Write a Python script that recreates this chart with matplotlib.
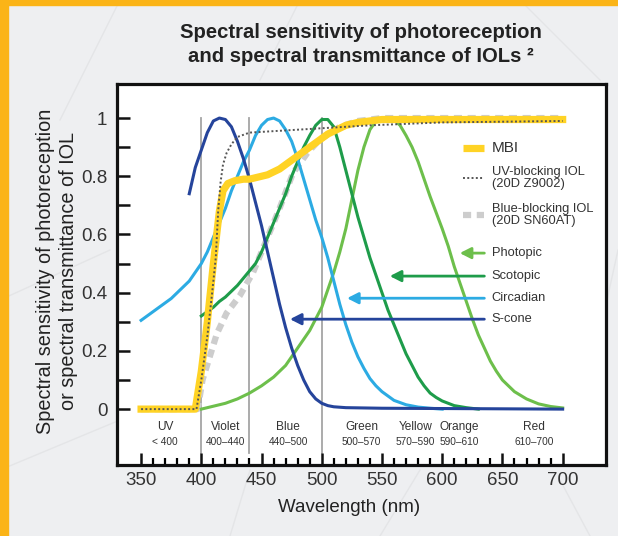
import matplotlib
matplotlib.use('Agg')
import matplotlib.pyplot as plt
from matplotlib.patches import Rectangle
from matplotlib.lines import Line2D

SANS = 'Liberation Sans'

# ---------------- data ----------------
scone_nm = [390, 395, 400, 405, 410, 415, 420, 425, 430, 435, 440, 445, 450, 455, 460,
            465, 470, 475, 480, 485, 490, 495, 500, 505, 510, 520, 550, 600, 650, 700]
scone_y = [0.74, 0.83, 0.89, 0.95, 0.99, 1.0, 0.995, 0.97, 0.92, 0.86, 0.79, 0.71, 0.63, 0.54, 0.45,
           0.36, 0.28, 0.21, 0.15, 0.10, 0.06, 0.035, 0.02, 0.012, 0.008, 0.005, 0.003, 0.002, 0.001, 0.0]

circ_nm = [350, 355, 360, 365, 370, 375, 380, 385, 390, 395, 400, 405, 410, 415, 420, 425, 430,
           435, 440, 445, 450, 455, 460, 465, 470, 475, 480, 485, 490, 495, 500, 505, 510, 515,
           520, 525, 530, 535, 540, 545, 550, 560, 570, 580, 590, 600]
circ_y = [0.305, 0.32, 0.335, 0.35, 0.365, 0.38, 0.40, 0.42, 0.44, 0.47, 0.50, 0.54, 0.59, 0.64,
          0.69, 0.75, 0.80, 0.85, 0.89, 0.94, 0.975, 0.995, 1.0, 0.99, 0.96, 0.92, 0.86, 0.79,
          0.72, 0.65, 0.59, 0.52, 0.44, 0.36, 0.29, 0.23, 0.18, 0.14, 0.105, 0.08, 0.06, 0.03,
          0.015, 0.007, 0.003, 0.0]

scot_nm = [400, 405, 410, 415, 420, 425, 430, 435, 440, 445, 450, 455, 460, 465, 470, 475, 480,
           485, 490, 495, 500, 505, 510, 515, 520, 525, 530, 535, 540, 545, 550, 555, 560, 565,
           570, 575, 580, 585, 590, 595, 600, 610, 620, 630]
scot_y = [0.32, 0.335, 0.35, 0.37, 0.385, 0.405, 0.425, 0.45, 0.475, 0.50, 0.54, 0.59, 0.64, 0.69,
          0.74, 0.80, 0.85, 0.90, 0.94, 0.975, 0.995, 0.995, 0.97, 0.90, 0.82, 0.74, 0.66, 0.59,
          0.52, 0.46, 0.40, 0.34, 0.29, 0.24, 0.19, 0.15, 0.11, 0.08, 0.055, 0.04, 0.028, 0.012,
          0.005, 0.0]

phot_nm = [400, 410, 420, 430, 440, 450, 460, 470, 475, 480, 485, 490, 495, 500, 505, 510, 515,
           520, 525, 530, 535, 540, 545, 550, 555, 560, 565, 570, 575, 580, 585, 590, 595, 600,
           605, 610, 615, 620, 625, 630, 635, 640, 645, 650, 655, 660, 670, 680, 690, 700]
phot_y = [0.0, 0.01, 0.02, 0.035, 0.055, 0.08, 0.11, 0.15, 0.18, 0.21, 0.24, 0.27, 0.31, 0.35,
          0.41, 0.47, 0.54, 0.62, 0.72, 0.82, 0.90, 0.96, 0.99, 1.0, 1.0, 0.995, 0.975, 0.94,
          0.90, 0.85, 0.79, 0.73, 0.675, 0.62, 0.56, 0.49, 0.43, 0.37, 0.31, 0.255, 0.21, 0.165,
          0.13, 0.10, 0.08, 0.06, 0.035, 0.018, 0.009, 0.004]

mbi_nm = [350, 395, 400, 405, 410, 415, 418, 422, 428, 435, 440, 445, 450, 455, 460, 465, 470,
          475, 480, 485, 490, 495, 500, 505, 510, 515, 520, 530, 540, 550, 600, 700]
mbi_y = [0.0, 0.0, 0.13, 0.30, 0.50, 0.68, 0.75, 0.775, 0.785, 0.79, 0.79, 0.795, 0.80, 0.805,
         0.815, 0.825, 0.84, 0.855, 0.87, 0.885, 0.90, 0.915, 0.93, 0.945, 0.955, 0.965, 0.975,
         0.985, 0.99, 0.995, 0.995, 0.995]

uvb_nm = [350, 396, 400, 405, 409, 412, 414, 416, 418, 421, 425, 430, 440, 460, 500, 540, 600, 700]
uvb_y = [0.0, 0.0, 0.10, 0.25, 0.40, 0.52, 0.68, 0.78, 0.84, 0.88, 0.91, 0.935, 0.95, 0.955,
         0.965, 0.975, 0.985, 0.99]

bb_nm = [350, 397, 401, 407, 413, 421, 432, 443, 455, 465, 476, 488, 498, 515, 530, 550, 700]
bb_y = [0.0, 0.0, 0.10, 0.18, 0.26, 0.33, 0.39, 0.47, 0.59, 0.69, 0.81, 0.88, 0.925, 0.97,
        0.99, 1.0, 1.0]

band_names = ['UV', 'Violet', 'Blue', 'Green', 'Yellow', 'Orange', 'Red']
band_ranges = ['< 400', '400–440', '440–500', '500–570', '570–590', '590–610', '610–700']
band_label_x = [370, 420, 472, 533, 578, 614, 676]
band_edges = [400, 440, 500]

x_ticks = [350, 400, 450, 500, 550, 600, 650, 700]
y_ticks = [0, 0.2, 0.4, 0.6, 0.8, 1.0]
y_tick_labels = ['0', '0.2', '0.4', '0.6', '0.8', '1']

C_SCONE = '#25449B'
C_CIRC = '#2CABE3'
C_SCOT = '#1E9C4A'
C_PHOT = '#6DBF4B'
C_MBI = '#FFD325'
C_UVB = '#555555'
C_BB = '#CDCDCD'
C_TXT = '#333333'

# ---------------- figure ----------------
W, H = 618, 536
fig = plt.figure(figsize=(W / 100, H / 100), dpi=100, facecolor='#EEEFF1')

# faint decorative background lines
for (x0, y0, x1, y1) in [(0, 300, 110, 250), (0, 470, 120, 420), (120, 0, 60, 120),
                         (300, 0, 260, 80), (380, 536, 420, 470), (590, 536, 560, 480),
                         (618, 250, 607, 300), (230, 536, 250, 470), (520, 0, 600, 80)]:
    fig.add_artist(Line2D([x0 / W, x1 / W], [1 - y0 / H, 1 - y1 / H], transform=fig.transFigure,
                          color='#E4E5E7', lw=1.0, zorder=0))

# orange frame strips
fig.add_artist(Rectangle((0, 0), 8 / W, 1, transform=fig.transFigure, color='#FBB417', zorder=1))
fig.add_artist(Rectangle((0, 1 - 5 / H), 1, 5 / H, transform=fig.transFigure, color='#FBB417', zorder=1))

ax = fig.add_axes([117 / W, (H - 465) / H, (606 - 117) / W, (465 - 84) / H])
ax.set_facecolor('white')
ax.set_xlim(330, 736)
ax.set_ylim(-0.192, 1.117)

for s in ax.spines.values():
    s.set_linewidth(2.3)
    s.set_color('#111111')

# band separators
for e in band_edges:
    ax.plot([e, e], [-0.15, 1.0], color='#A5A5A5', lw=1.3, zorder=1)

# curves
ax.plot(bb_nm, bb_y, color=C_BB, lw=4.5, dashes=(1.3, 0.9), zorder=2, solid_capstyle='butt')
ax.plot(phot_nm, phot_y, color=C_PHOT, lw=2.2, zorder=3)
ax.plot(scot_nm, scot_y, color=C_SCOT, lw=2.2, zorder=3)
ax.plot(circ_nm, circ_y, color=C_CIRC, lw=2.2, zorder=3)
ax.plot(scone_nm, scone_y, color=C_SCONE, lw=2.2, zorder=3)
ax.plot(mbi_nm, mbi_y, color=C_MBI, lw=5.2, zorder=4, solid_joinstyle='round')
ax.plot(uvb_nm, uvb_y, color=C_UVB, lw=1.4, dashes=(1.0, 1.2), zorder=5)

# legend handles
ax.plot([617, 635], [0.897, 0.897], color=C_MBI, lw=5.2, solid_capstyle='butt', zorder=6)
ax.plot([617, 635], [0.794, 0.794], color=C_UVB, lw=1.4, dashes=(1.0, 1.2), zorder=6)
ax.plot([617, 635], [0.667, 0.667], color=C_BB, lw=4.5, dashes=(1.3, 0.9), zorder=6)

tkw = dict(fontfamily=SANS, fontsize=9.3, color=C_TXT, va='center', ha='left')
ax.text(641, 0.897, 'MBI', **dict(tkw, fontsize=11))
ax.text(641, 0.794, 'UV-blocking IOL\n(20D Z9002)', linespacing=1.05, **tkw)
ax.text(641, 0.667, 'Blue-blocking IOL\n(20D SN60AT)', linespacing=1.05, **tkw)

for (lbl, y, x0, c) in [('Photopic', 0.536, 614.6, C_PHOT), ('Scotopic', 0.457, 556.5, C_SCOT),
                        ('Circadian', 0.381, 521, C_CIRC), ('S-cone', 0.309, 473.6, C_SCONE)]:
    ax.annotate('', xy=(x0, y), xytext=(635, y),
                arrowprops=dict(arrowstyle='-|>,head_length=0.55,head_width=0.28', color=c,
                                lw=2.0, shrinkA=0, shrinkB=0, mutation_scale=12), zorder=6)
    ax.text(641, y, lbl, **tkw)

# band labels
for n, r, x in zip(band_names, band_ranges, band_label_x):
    ax.text(x, -0.062, n, ha='center', va='center', fontfamily=SANS, fontsize=8.6, color=C_TXT)
    ax.text(x, -0.112, r, ha='center', va='center', fontfamily=SANS, fontsize=7.3, color=C_TXT)

# ticks
ax.set_xticks(x_ticks)
ax.set_xticks(list(range(350, 701, 10)), minor=True)
ax.set_yticks(y_ticks)
ax.set_yticklabels(y_tick_labels)
ax.set_yticks([0.1, 0.3, 0.5, 0.7, 0.9], minor=True)
ax.tick_params(axis='x', which='major', direction='in', length=8.5, width=1.8, pad=5,
               labelsize=13.5, colors='#111111', labelcolor=C_TXT)
ax.tick_params(axis='x', which='minor', direction='in', length=5, width=1.6)
ax.tick_params(axis='y', which='both', direction='in', length=9, width=1.8, pad=7,
               labelsize=13.5, colors='#111111', labelcolor=C_TXT)
for lab in ax.get_xticklabels() + ax.get_yticklabels():
    lab.set_fontfamily(SANS)

# texts in figure coordinates
fig.text(361 / W, 1 - 33 / H, 'Spectral sensitivity of photoreception', ha='center', va='center',
         fontfamily=SANS, fontweight='bold', fontsize=14.6, color='#222222')
fig.text(361 / W, 1 - 57 / H, 'and spectral transmittance of IOLs ²', ha='center', va='center',
         fontfamily=SANS, fontweight='bold', fontsize=14.6, color='#222222')
fig.text(349 / W, 1 - 508 / H, 'Wavelength (nm)', ha='center', va='center',
         fontfamily=SANS, fontsize=13.5, color='#222222')
fig.text(57 / W, 1 - 271 / H, 'Spectral sensitivity of photoreception\nor spectral transmittance of IOL',
         ha='center', va='center', rotation=90, multialignment='center', linespacing=1.25,
         fontfamily=SANS, fontsize=14.3, color='#222222')

fig.savefig('out.png', dpi=100, facecolor=fig.get_facecolor())
